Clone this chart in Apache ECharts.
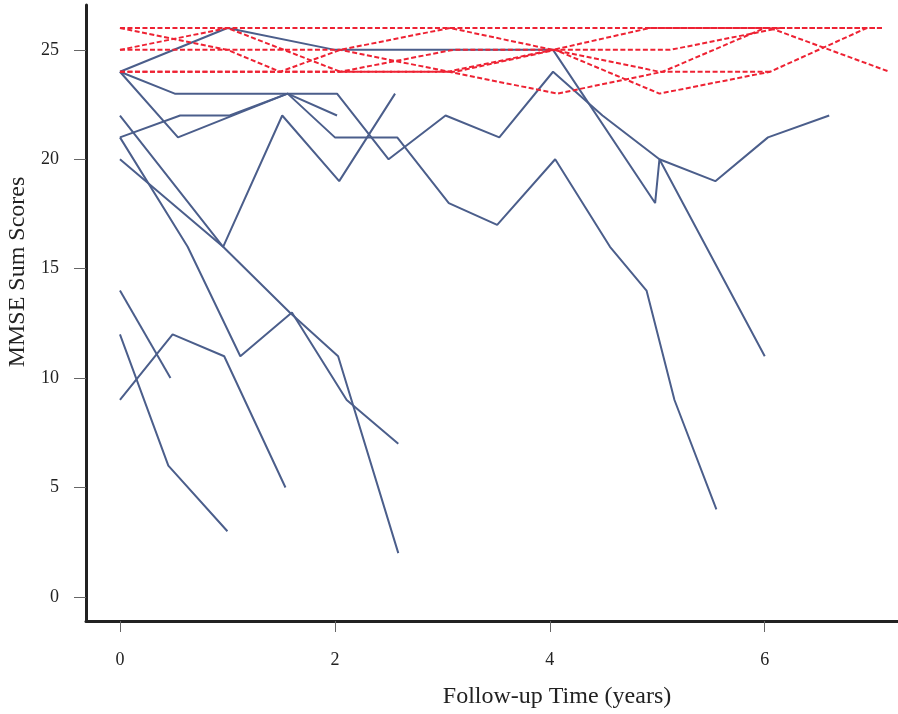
<!DOCTYPE html>
<html lang="en">
<head>
    <meta charset="UTF-8">
    <title>MMSE</title>
    <script src="https://cdn.jsdelivr.net/npm/echarts@6/dist/echarts.min.js"></script>
    <style>
        html, body { margin: 0; padding: 0; background: #fff; }
    </style>
</head>
<body>
<div id="main" style="width: 898px;height:714px;"></div>
<script>
    // tick labels
    var xTicks = [0, 2, 4, 6];
    var yTicks = [0, 5, 10, 15, 20, 25];

    // solid blue trajectories: [years, score]
    var blue1 = [[0, 24], [1.0, 26], [2.0, 25], [3.0, 25], [4.03, 25], [4.98, 18], [5.02, 20], [6.0, 11]];
    var blue2 = [[0, 24], [0.51, 23], [2.02, 23], [2.5, 20], [3.03, 22], [3.53, 21], [4.03, 24], [4.49, 22], [5.02, 20], [5.54, 19], [6.03, 21], [6.6, 22]];
    var blue3 = [[0, 24], [0.54, 21], [1.56, 23], [2.02, 22]];
    var blue4 = [[0, 21], [0.56, 22], [1.02, 22], [1.56, 23], [2.0, 21], [2.58, 21], [3.06, 18], [3.51, 17], [4.05, 20], [4.56, 16], [4.9, 14], [5.16, 9], [5.55, 4]];
    var blue5 = [[0, 22], [0.96, 16], [1.51, 22], [2.04, 19], [2.56, 23]];
    var blue6 = [[0, 20], [0.96, 16], [1.58, 13], [2.03, 11], [2.59, 2]];
    var blue7 = [[0, 21], [0.63, 16], [1.12, 11], [1.6, 13], [2.11, 9], [2.59, 7]];
    var blue8 = [[0, 14], [0.47, 10]];
    var blue9 = [[0, 12], [0.45, 6], [1.0, 3]];
    var blue10 = [[0, 9], [0.49, 12], [0.97, 11], [1.54, 5]];

    // dashed red trajectories
    var red1 = [[0, 26], [2.05, 26], [4, 26], [6, 26], [7.09, 26]];
    var red2 = [[0, 26], [1, 25], [1.49, 24], [2.05, 25], [3.07, 26], [4.03, 25], [4.93, 26], [6.05, 26], [7.16, 24]];
    var red3 = [[0, 25], [1, 26], [2.05, 24], [3.05, 24], [4.03, 25], [5.02, 24], [6.05, 24]];
    var red4 = [[0, 25], [2.05, 25], [4.07, 23], [5.05, 24], [6, 26], [7.09, 26]];
    var red5 = [[0, 24], [2.05, 24], [3.1, 25], [4.03, 25], [5.12, 25], [6.14, 26]];
    var red6 = [[0, 24], [2.05, 24], [3.12, 24], [4.05, 25], [5.02, 23], [6.05, 24], [6.95, 26]];

    var blueLines = [blue1, blue2, blue3, blue4, blue5, blue6, blue7, blue8, blue9, blue10];
    var redLines = [red1, red2, red3, red4, red5, red6];

    var font = 'Liberation Serif';
    var series = [];
    blueLines.forEach(function (d) {
        series.push({
            type: 'line', data: d, symbol: 'none', silent: true,
            lineStyle: {color: '#4b5e8b', width: 2}
        });
    });
    redLines.forEach(function (d) {
        series.push({
            type: 'line', data: d, symbol: 'none', silent: true, z: 3,
            lineStyle: {color: '#ee2233', width: 2, type: [5, 2.5]}
        });
    });

    var option = {
        animation: false,
        grid: {left: 86, right: 0, top: 5, bottom: 93, outerBoundsMode: 'none'},
        xAxis: {
            type: 'value', min: -0.316, max: 7.24,
            name: 'Follow-up Time (years)', nameLocation: 'middle', nameGap: 64,
            nameTextStyle: {fontFamily: font, fontSize: 24, color: '#222', padding: [0, 0, 0, 130]},
            axisLine: {show: true, onZero: false, lineStyle: {color: '#222', width: 3}},
            axisTick: {show: true, length: 11, customValues: xTicks, lineStyle: {color: '#666', width: 1}},
            axisLabel: {customValues: xTicks, margin: 30, fontFamily: font, fontSize: 18, color: '#222'},
            splitLine: {show: false}
        },
        yAxis: {
            type: 'value', min: -1.1, max: 27.05,
            name: 'MMSE Sum Scores', nameLocation: 'middle', nameGap: 56,
            nameTextStyle: {fontFamily: font, fontSize: 24, color: '#222', padding: [0, 0, 0, 82]},
            axisLine: {show: true, onZero: false, lineStyle: {color: '#222', width: 3}},
            axisTick: {show: true, length: 12, customValues: yTicks, lineStyle: {color: '#666', width: 1}},
            axisLabel: {customValues: yTicks, margin: 27, fontFamily: font, fontSize: 18, color: '#222'},
            splitLine: {show: false}
        },
        series: series
    };

    var myChart = echarts.init(document.getElementById('main'));
    myChart.setOption(option);
</script>
</body>
</html>
